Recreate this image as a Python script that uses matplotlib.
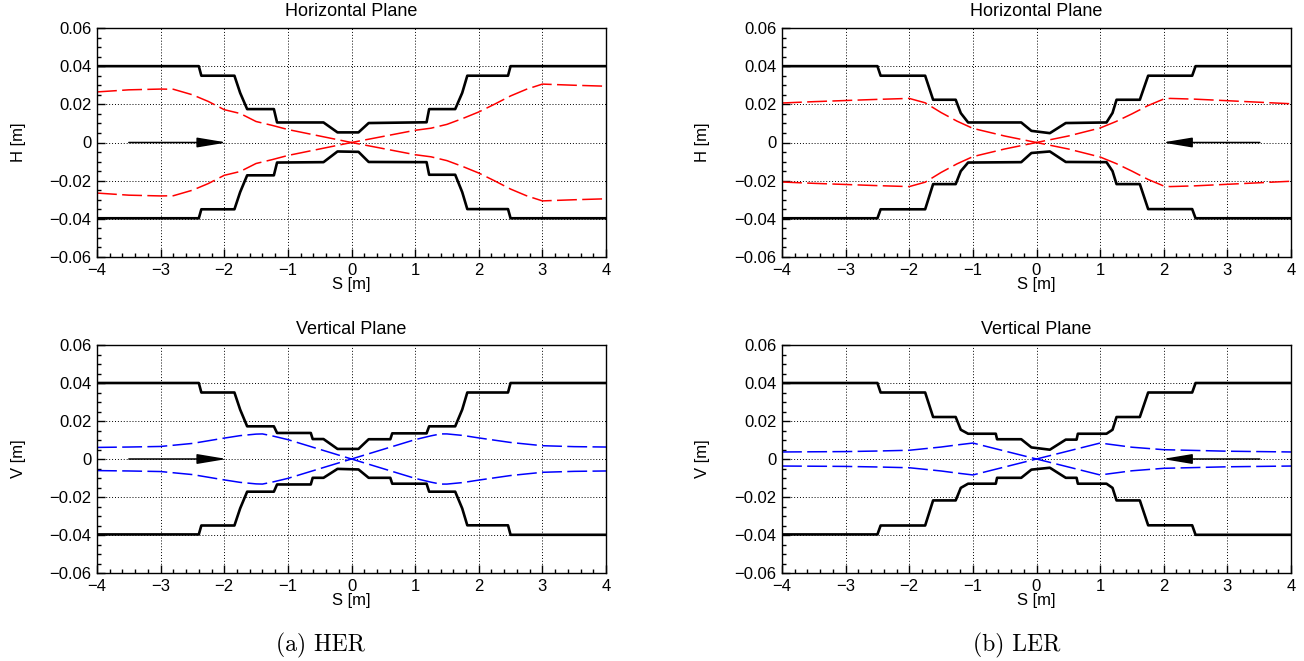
import matplotlib
matplotlib.use("Agg")
import matplotlib.pyplot as plt
from matplotlib.ticker import MultipleLocator, FuncFormatter
import numpy as np

plt.rcParams['font.family'] = ['Liberation Sans', 'DejaVu Sans']

# ---- aperture (beam pipe) : HER horizontal
her_h_s_up = [-4, -2.40, -2.36, -1.84, -1.75, -1.64, -1.22, -1.17, -0.44, -0.22, 0.11, 0.27, 1.18, 1.22, 1.63, 1.74, 1.82, 2.46, 2.50, 4]
her_h_y_up = [0.040, 0.040, 0.035, 0.035, 0.026, 0.0175, 0.0175, 0.0105, 0.0105, 0.0053, 0.0053, 0.0102, 0.0106, 0.0175, 0.0175, 0.026, 0.035, 0.035, 0.040, 0.040]
her_h_s_lo = [-4, -2.40, -2.36, -1.84, -1.75, -1.64, -1.22, -1.17, -0.44, -0.22, 0.11, 0.27, 1.18, 1.22, 1.63, 1.74, 1.82, 2.46, 2.50, 4]
her_h_y_lo = [-0.0397, -0.0397, -0.035, -0.035, -0.026, -0.0172, -0.0172, -0.0105, -0.0103, -0.0047, -0.0049, -0.0102, -0.0103, -0.0169, -0.0169, -0.026, -0.0349, -0.0349, -0.0397, -0.0397]

# ---- aperture : HER vertical
her_v_s_up = [-4, -2.40, -2.36, -1.84, -1.75, -1.64, -1.22, -1.17, -0.64, -0.61, -0.44, -0.22, 0.11, 0.27, 0.61, 0.64, 1.18, 1.22, 1.63, 1.74, 1.82, 2.46, 2.50, 4]
her_v_y_up = [0.040, 0.040, 0.035, 0.035, 0.026, 0.0172, 0.0172, 0.0137, 0.0137, 0.0105, 0.0105, 0.0053, 0.0053, 0.0104, 0.0104, 0.0135, 0.0135, 0.0172, 0.0172, 0.026, 0.035, 0.035, 0.040, 0.040]
her_v_s_lo = her_v_s_up
her_v_y_lo = [-0.0397, -0.0397, -0.035, -0.035, -0.026, -0.0172, -0.0172, -0.0134, -0.0134, -0.0099, -0.0099, -0.0052, -0.0055, -0.0099, -0.0099, -0.0130, -0.0130, -0.0172, -0.0172, -0.026, -0.0349, -0.0349, -0.0399, -0.0399]

# ---- aperture : LER horizontal
ler_h_s_up = [-4, -2.50, -2.45, -1.75, -1.625, -1.27, -1.19, -1.075, -0.24, -0.08, 0.21, 0.46, 1.10, 1.195, 1.258, 1.624, 1.755, 2.447, 2.50, 4]
ler_h_y_up = [0.040, 0.040, 0.035, 0.035, 0.0224, 0.0224, 0.0154, 0.0105, 0.0105, 0.0061, 0.0049, 0.0102, 0.0105, 0.0155, 0.0224, 0.0224, 0.035, 0.035, 0.040, 0.040]
ler_h_s_lo = ler_h_s_up
ler_h_y_lo = [-0.0397, -0.0397, -0.035, -0.035, -0.0218, -0.0218, -0.015, -0.0105, -0.0103, -0.0055, -0.0047, -0.0102, -0.0103, -0.015, -0.0218, -0.0218, -0.0349, -0.0349, -0.0397, -0.0397]

# ---- aperture : LER vertical
ler_v_s_up = [-4, -2.50, -2.45, -1.75, -1.625, -1.27, -1.19, -1.075, -0.64, -0.62, -0.24, -0.08, 0.21, 0.46, 0.63, 0.65, 1.10, 1.195, 1.258, 1.624, 1.755, 2.447, 2.50, 4]
ler_v_y_up = [0.040, 0.040, 0.035, 0.035, 0.0221, 0.0221, 0.0154, 0.0133, 0.0133, 0.0104, 0.0104, 0.0061, 0.0049, 0.0102, 0.0102, 0.0133, 0.0133, 0.0154, 0.0221, 0.0221, 0.035, 0.035, 0.040, 0.040]
ler_v_s_lo = ler_v_s_up
ler_v_y_lo = [-0.0397, -0.0397, -0.035, -0.035, -0.0218, -0.0218, -0.0152, -0.0130, -0.0130, -0.0099, -0.0099, -0.0056, -0.0046, -0.0099, -0.0099, -0.0130, -0.0130, -0.0152, -0.0218, -0.0218, -0.0349, -0.0349, -0.0399, -0.0399]

# ---- beam envelopes (signed, the mirror trace is drawn too)
her_h_env_s = [-4, -3.5, -3, -2.8, -2.5, -2.25, -2, -1.75, -1.5, -1.25, -1, -0.5, 0, 0.5, 1, 1.25, 1.5, 1.75, 2, 2.25, 2.5, 2.75, 3, 3.5, 4]
her_h_env = [0.0265, 0.0276, 0.0280, 0.0279, 0.0250, 0.0215, 0.0172, 0.0152, 0.0110, 0.0090, 0.0068, 0.0034, 0, -0.0032, -0.0064, -0.0075, -0.0095, -0.0126, -0.0160, -0.0201, -0.0244, -0.0279, -0.0306, -0.0300, -0.0295]

her_v_env_s = [-4, -3.5, -3, -2.5, -2, -1.75, -1.5, -1.4, -1.25, -1, -0.5, 0, 0.5, 1, 1.25, 1.4, 1.5, 1.75, 2, 2.5, 3, 3.5, 4]
her_v_env = [0.0061, 0.0063, 0.0066, 0.0082, 0.0110, 0.0123, 0.0131, 0.0132, 0.0122, 0.0102, 0.0051, 0, -0.0051, -0.0102, -0.0122, -0.0132, -0.0132, -0.0124, -0.0111, -0.0087, -0.0070, -0.0065, -0.0063]

ler_h_env_s = [-4, -3.5, -3, -2.5, -2, -1.75, -1.5, -1.25, -1, -0.5, 0, 0.5, 1, 1.25, 1.5, 1.75, 2, 2.1, 2.5, 3, 3.5, 4]
ler_h_env = [0.0207, 0.0214, 0.0220, 0.0226, 0.0231, 0.0208, 0.0157, 0.0112, 0.0074, 0.0034, 0, -0.0034, -0.0076, -0.0110, -0.0150, -0.0193, -0.0228, -0.0231, -0.0227, -0.0219, -0.0211, -0.0203]

ler_v_env_s = [-4, -3, -2.5, -2, -1.5, -1.25, -1, -0.5, 0, 0.5, 1, 1.25, 1.5, 2, 2.5, 3, 3.5, 4]
ler_v_env = [0.0037, 0.0039, 0.0042, 0.0046, 0.0063, 0.0074, 0.0084, 0.0042, 0, -0.0042, -0.0084, -0.0073, -0.0062, -0.0049, -0.0045, -0.0041, -0.0039, -0.0037]

# beam direction arrows (tail, tip)
her_arrow = [-3.50, -1.96]
ler_arrow = [3.51, 1.98]

panels = [
    # (position, title, ylabel, aperture, envelope, env colour, arrow)
    ([97, 28, 509, 229], "Horizontal Plane", "H [m]",
     (her_h_s_up, her_h_y_up, her_h_s_lo, her_h_y_lo), (her_h_env_s, her_h_env), 'red', her_arrow),
    ([782, 28, 509, 229], "Horizontal Plane", "H [m]",
     (ler_h_s_up, ler_h_y_up, ler_h_s_lo, ler_h_y_lo), (ler_h_env_s, ler_h_env), 'red', ler_arrow),
    ([97, 345, 509, 228], "Vertical Plane", "V [m]",
     (her_v_s_up, her_v_y_up, her_v_s_lo, her_v_y_lo), (her_v_env_s, her_v_env), 'blue', her_arrow),
    ([782, 345, 509, 228], "Vertical Plane", "V [m]",
     (ler_v_s_up, ler_v_y_up, ler_v_s_lo, ler_v_y_lo), (ler_v_env_s, ler_v_env), 'blue', ler_arrow),
]

W, H = 1304, 661
fig = plt.figure(figsize=(W / 100, H / 100), dpi=100)


def fmt(v, pos):
    if abs(v) < 1e-9:
        return "0"
    return ("%g" % round(v, 4)).replace("-", "\u2212")


for pos, title, ylab, ap, env, col, arr in panels:
    x0, y0, w, h = pos
    ax = fig.add_axes([x0 / W, 1 - (y0 + h) / H, w / W, h / H])
    ax.set_xlim(-4, 4)
    ax.set_ylim(-0.06, 0.06)

    ax.plot(ap[0], ap[1], color='black', lw=1.9, solid_joinstyle='round', zorder=3)
    ax.plot(ap[2], ap[3], color='black', lw=1.9, solid_joinstyle='round', zorder=3)

    s = np.array(env[0])
    e = np.array(env[1])
    ax.plot(s, e, color=col, lw=1.1, dashes=(13, 3.5), zorder=2)
    ax.plot(s, -e, color=col, lw=1.1, dashes=(13, 3.5), zorder=2)

    ax.annotate('', xy=(arr[1], 0), xytext=(arr[0], 0),
                arrowprops=dict(arrowstyle='-|>,head_length=1.8,head_width=0.3',
                                color='black', lw=1.1, shrinkA=0, shrinkB=0,
                                mutation_scale=10), zorder=4)

    ax.xaxis.set_major_locator(MultipleLocator(1))
    ax.xaxis.set_minor_locator(MultipleLocator(0.2))
    ax.yaxis.set_major_locator(MultipleLocator(0.02))
    ax.yaxis.set_minor_locator(MultipleLocator(0.005))
    ax.xaxis.set_major_formatter(FuncFormatter(fmt))
    ax.yaxis.set_major_formatter(FuncFormatter(fmt))
    ax.tick_params(which='both', direction='in', top=False, right=False, labelsize=12, width=1)
    ax.tick_params(which='major', length=6, pad=4)
    ax.tick_params(which='minor', length=3)
    ax.grid(True, which='major', color='black', lw=0.7, linestyle=(0, (1, 2)))
    for sp in ax.spines.values():
        sp.set_linewidth(1.0)

    ax.set_xlabel("S [m]", fontsize=12)
    ax.set_ylabel(ylab, fontsize=12)
    ax.xaxis.set_label_coords(0.5, -28 / h)
    ax.xaxis.label.set_va('center')
    ax.yaxis.set_label_coords(-79 / w, 0.5)
    ax.yaxis.label.set_va('center')
    ax.text(0.5, 1 + 16 / h, title, transform=ax.transAxes, ha='center', va='center', fontsize=13)

fig.text(321 / W, 1 - 645 / H, "(a) HER", family='cmr10', fontsize=17, ha='center', va='center')
fig.text(1017 / W, 1 - 645 / H, "(b) LER", family='cmr10', fontsize=17, ha='center', va='center')

fig.savefig("out.png", dpi=100)
